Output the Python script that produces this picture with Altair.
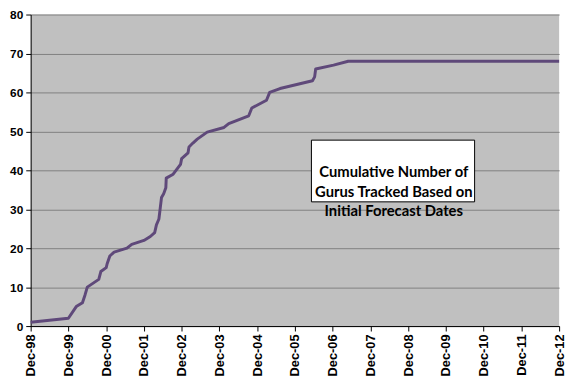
import altair as alt
import pandas as pd

dates = ["1998-12-01", "1999-12-01", "2000-02-15", "2000-04-15", "2000-05-10",
         "2000-06-01", "2000-09-20", "2000-10-10", "2000-12-01", "2000-12-10",
         "2001-01-05", "2001-02-15", "2001-06-20", "2001-08-05", "2001-12-01",
         "2002-02-01", "2002-03-15", "2002-04-01", "2002-04-25", "2002-05-20",
         "2002-06-10", "2002-07-01", "2002-07-05", "2002-09-10", "2002-11-20",
         "2002-12-01", "2003-02-01", "2003-02-10", "2003-03-20", "2003-05-01",
         "2003-08-05", "2004-01-15", "2004-03-01", "2004-09-10", "2004-10-10",
         "2005-03-01", "2005-04-01", "2005-07-10", "2006-05-20", "2006-06-10",
         "2006-06-20", "2006-12-10", "2007-05-01", "2012-12-01"]
gurus = [1, 2, 5, 6, 8,
         10, 12, 14, 15, 16,
         18, 19, 20, 21, 22,
         23, 24, 26, 27.5, 33,
         34, 35.5, 38, 39, 41.5,
         43, 44.5, 46, 47, 48,
         49.8, 51, 52, 54, 56,
         58, 60, 61, 63, 64,
         66, 67, 68, 68]

tick_years = list(range(1998, 2013))
y_ticks = [0, 10, 20, 30, 40, 50, 60, 70, 80]

note_text = "Cumulative Number of\nGurus Tracked Based on\nInitial Forecast Dates"

df = pd.DataFrame({"date": dates, "gurus": gurus})
box = pd.DataFrame({"date": ["2006-05-10"], "date2": ["2010-09-05"],
                    "gurus": [47.75], "gurus2": [31.9]})
note = pd.DataFrame({"date": ["2008-07-15"], "gurus": [39.6], "label": [note_text]})

xscale = alt.Scale(type="utc",
                   domain=[alt.DateTime(year=1998, month=12, date=1, utc=True),
                           alt.DateTime(year=2012, month=12, date=1, utc=True)])
xvals = [alt.DateTime(year=y, month=12, date=1, utc=True) for y in tick_years]
yscale = alt.Scale(domain=[0, 80], nice=False)

X = alt.X("date:T", scale=xscale,
          axis=alt.Axis(values=xvals, format="%b-%y", labelAngle=-90, title=None,
                        grid=False, domainColor="black", tickColor="black", tickSize=5,
                        labelFont="Liberation Sans", labelFontWeight="bold", labelFontSize=13,
                        labelColor="black", labelPadding=3, labelOverlap=False,
                        labelFlush=False))
Y = alt.Y("gurus:Q", scale=yscale,
          axis=alt.Axis(values=y_ticks, title=None, grid=True, gridColor="#808080",
                        gridWidth=1, domainColor="black", tickColor="black", tickSize=5,
                        labelFont="Liberation Sans", labelFontWeight="bold", labelFontSize=12,
                        labelColor="black", labelPadding=3, labelOverlap=False))

line = alt.Chart(df).mark_line(color="#5F497A", strokeWidth=3, strokeJoin="round").encode(
    x=X, y=Y)

rect = alt.Chart(box).mark_rect(fill="white", stroke="black", strokeWidth=1).encode(
    x=X, x2="date2:T", y=Y, y2="gurus2:Q")

text = alt.Chart(note).mark_text(font="Lato", fontWeight="bold", fontSize=15,
                                 lineBreak="\n", lineHeight=20, color="black",
                                 align="center", baseline="middle").encode(
    x=X, y=Y, text="label:N")

chart = alt.layer(line, rect, text).properties(
    width=536, height=316,
    autosize=alt.AutoSizeParams(type="none"),
    padding={"left": 23, "top": 4, "right": 9, "bottom": 48},
).configure_view(fill="#C0C0C0", stroke=None)

chart.save("out.html", embed_options={"renderer": "svg", "actions": False})
